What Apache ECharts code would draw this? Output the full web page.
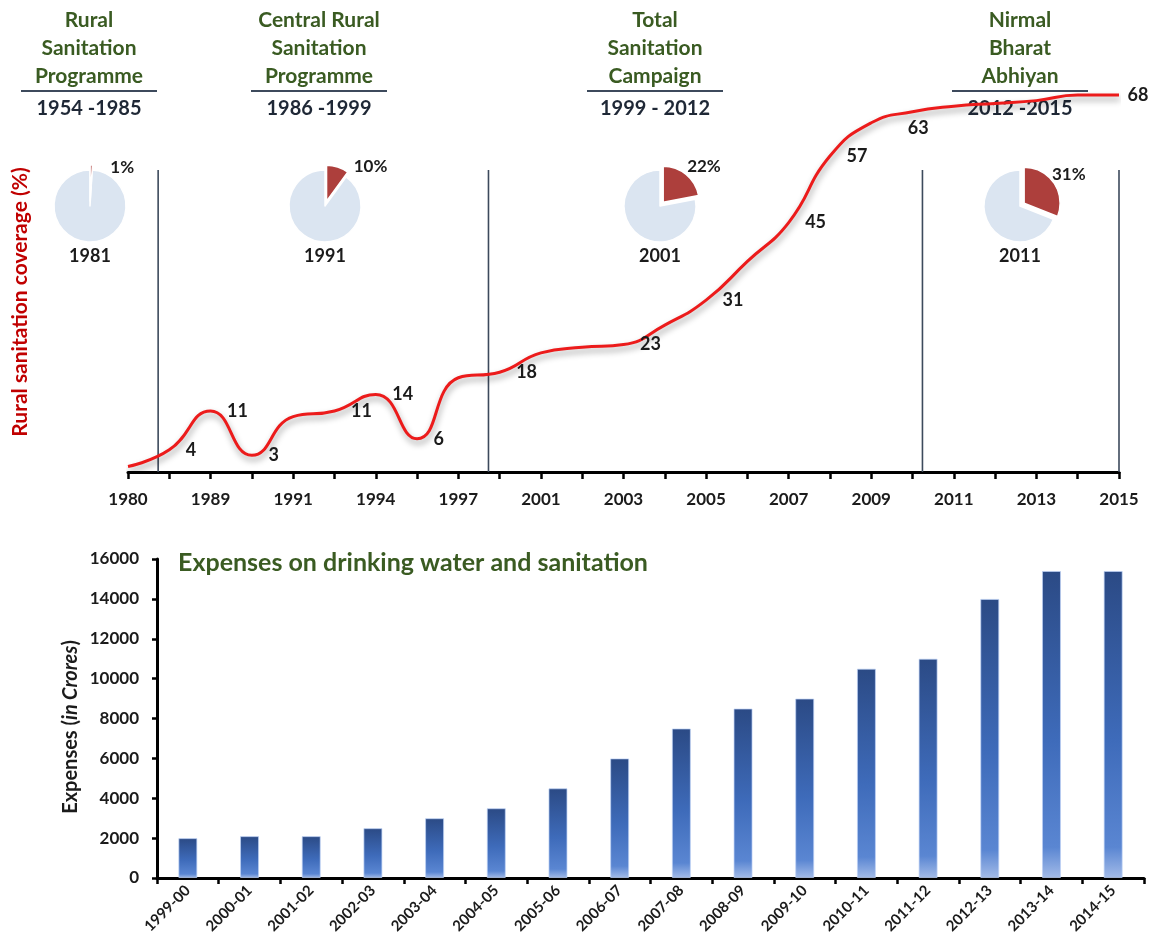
<!DOCTYPE html>
<html>
<head>
<meta charset="utf-8">
<script src="https://cdn.jsdelivr.net/npm/echarts@6/dist/echarts.min.js"></script>
<style>
  html, body { margin: 0; padding: 0; background: #ffffff; }
  #chart { width: 1153px; height: 950px; }
</style>
</head>
<body>
<div id="chart"></div>
<script>
// ---- Rural sanitation coverage (%) ----
// one slot per axis tick: labelled years alternate with unlabelled in-between ticks
const coverageAxisLabels = ['1980', '', '1989', '', '1991', '', '1994', '', '1997', '', '2001', '', '2003', '',
  '2005', '', '2007', '', '2009', '', '2011', '', '2013', '', '2015'];
const coverageValues = [1, 4, 11, 3, 10, 11, 14, 6, 17, 18, 21.5, 22.5, 23, 26.5, 31, 38, 45, 57, 63, 65, 66, 66.5, 67, 68, 68];
// slots whose value is written next to the curve
const coverageLabelled = [1, 2, 3, 5, 6, 7, 9, 12, 14, 16, 17, 18, 24];

// ---- sanitation programmes ----
const programmeNames = [
  ['Rural', 'Sanitation', 'Programme'],
  ['Central Rural', 'Sanitation', 'Programme'],
  ['Total', 'Sanitation', 'Campaign'],
  ['Nirmal', 'Bharat', 'Abhiyan']
];
const programmePeriods = ['1954 -1985', '1986 -1999', '1999 - 2012', '2012 -2015'];
// programme boundaries, in axis-slot units, and how high the divider rises (coverage %)
const phaseDividers = [0.73, 8.73, 19.24, 24];
const dividerTop = 54.5;

// ---- census snapshots ----
const censusYears = ['1981', '1991', '2001', '2011'];
const censusCoverage = [1, 10, 22, 31];

// ---- expenses on drinking water and sanitation (Rs crore) ----
const expenseYears = ['1999-00', '2000-01', '2001-02', '2002-03', '2003-04', '2004-05', '2005-06', '2006-07',
  '2007-08', '2008-09', '2009-10', '2010-11', '2011-12', '2012-13', '2013-14', '2014-15'];
const expenseValues = [2000, 2100, 2100, 2500, 3000, 3500, 4500, 6000, 7500, 8500, 9000, 10500, 11000, 14000, 15400, 15400];
const expenseTicks = { min: 0, max: 16000, interval: 2000 };

// ---- layout & style ----
const FONT = 'Lato, "Open Sans", sans-serif';
const GREEN = '#3a5b22';
const INK = '#1b1b1b';
const NAVY_INK = '#1f2836';
const RULE = '#3d4a5c';
const headerX = [89, 319, 655, 1020];
const pieX = [90, 325, 660, 1020];
const pieY = 206;
const pieRadius = 36;
// nudges for the percentage labels beside each pie
const pieLabelShift = [[10, 2], [7, 0], [-8, -8], [-11, -8]];
// nudges for individual value labels on the coverage curve (by slot)
const curveLabelShift = { 18: [20, 5], 24: [-8, 0] };

const chart = echarts.init(document.getElementById('chart'), null, { renderer: 'canvas' });

// coverage points, with value labels where the curve is annotated
const coverageData = coverageValues.map((v, i) =>
  coverageLabelled.includes(i) ? { value: v, label: { show: true } } : v
);

// programme divider lines, drawn on a hidden linear axis spanning the same slots
const dividerSeries = phaseDividers.map((x) => ({
  type: 'line',
  xAxisIndex: 1,
  yAxisIndex: 0,
  data: [[x, 0], [x, dividerTop]],
  symbol: 'none',
  silent: true,
  z: 1,
  lineStyle: { color: RULE, width: 1.6 },
  animation: false
}));

// census pies
const pieSeries = censusCoverage.map((p, i) => ({
  type: 'pie',
  center: [pieX[i], pieY],
  radius: pieRadius,
  startAngle: 90,
  clockwise: true,
  selectedMode: 'single',
  selectedOffset: 5,
  silent: true,
  animation: false,
  z: 3,
  itemStyle: { borderColor: '#ffffff', borderWidth: 1.5 },
  label: {
    show: true,
    position: 'outside',
    formatter: '{c}%',
    fontFamily: FONT,
    fontWeight: 'bold',
    fontSize: 17,
    color: INK
  },
  labelLine: { show: false, length: 0, length2: 4 },
  labelLayout: { dx: pieLabelShift[i][0], dy: pieLabelShift[i][1] },
  data: [
    { value: p, name: censusYears[i] + ' covered', selected: true, itemStyle: { color: '#ad3f3c' } },
    { value: 100 - p, name: censusYears[i] + ' not covered', itemStyle: { color: '#dbe5f1' }, label: { show: false } }
  ]
}));

// header blocks above the coverage chart
const graphics = [];
programmeNames.forEach((lines, i) => {
  graphics.push({
    type: 'text', x: headerX[i], y: 6, silent: true,
    style: { text: lines.join('\n'), font: 'bold 21px ' + FONT, fill: GREEN, align: 'center', lineHeight: 28 }
  });
  graphics.push({
    type: 'line', silent: true,
    shape: { x1: headerX[i] - 68, y1: 91, x2: headerX[i] + 68, y2: 91 },
    style: { stroke: RULE, lineWidth: 2 }
  });
  graphics.push({
    type: 'text', x: headerX[i], y: 109, silent: true,
    style: { text: programmePeriods[i], font: 'bold 20px ' + FONT, fill: NAVY_INK, align: 'center', verticalAlign: 'middle' }
  });
});
censusYears.forEach((yr, i) => {
  graphics.push({
    type: 'text', x: pieX[i], y: 256, silent: true,
    style: { text: yr, font: 'bold 18px ' + FONT, fill: INK, align: 'center', verticalAlign: 'middle' }
  });
});
graphics.push({
  type: 'text', x: 20, y: 302, rotation: Math.PI / 2, silent: true,
  style: { text: 'Rural sanitation coverage (%)', font: 'bold 21px ' + FONT, fill: '#c00000', align: 'center', verticalAlign: 'middle' }
});
graphics.push({
  type: 'text', x: 71, y: 727, rotation: Math.PI / 2, silent: true,
  style: {
    text: '{a|Expenses (}{b|in Crores}{a|)}',
    align: 'center', verticalAlign: 'middle',
    rich: {
      a: { font: 'bold 20px ' + FONT, fill: INK },
      b: { font: 'italic bold 20px ' + FONT, fill: INK }
    }
  }
});

const option = {
  backgroundColor: '#ffffff',
  animation: false,
  title: {
    text: 'Expenses on drinking water and sanitation',
    left: 173, top: 545,
    textStyle: { fontFamily: FONT, fontWeight: 'bold', fontSize: 25, color: GREEN }
  },
  grid: [
    { left: 128, right: 34, top: 84, height: 388, outerBoundsMode: 'none' },
    { left: 157, right: 9, top: 559, height: 319, outerBoundsMode: 'none' }
  ],
  xAxis: [
    {
      type: 'category', gridIndex: 0, data: coverageAxisLabels, boundaryGap: false,
      axisLine: { lineStyle: { color: '#000', width: 3 } },
      axisTick: { show: true, interval: 0, length: 7, lineStyle: { color: '#000', width: 2.5 } },
      axisLabel: { interval: 0, margin: 19, fontFamily: FONT, fontWeight: 'bold', fontSize: 17, color: INK },
      splitLine: { show: false }
    },
    {
      type: 'value', gridIndex: 0, min: 0, max: coverageAxisLabels.length - 1, show: false
    },
    {
      type: 'category', gridIndex: 1, data: expenseYears, boundaryGap: true,
      axisLine: { lineStyle: { color: '#000', width: 3 } },
      axisTick: { show: true, interval: 0, length: 6, lineStyle: { color: '#000', width: 2.5 } },
      axisLabel: { interval: 0, rotate: 45, margin: 10, fontFamily: FONT, fontWeight: 'bold', fontSize: 15, color: INK }
    }
  ],
  yAxis: [
    { type: 'value', gridIndex: 0, min: 0, max: 70, show: false },
    {
      type: 'value', gridIndex: 1, min: expenseTicks.min, max: expenseTicks.max, interval: expenseTicks.interval,
      axisLine: { show: true, lineStyle: { color: '#000', width: 3 } },
      axisTick: { show: true, length: 5, lineStyle: { color: '#000', width: 2.5 } },
      axisLabel: { margin: 18, fontFamily: FONT, fontWeight: 'bold', fontSize: 17, color: INK, formatter: (v) => String(v) },
      splitLine: { show: false }
    }
  ],
  graphic: graphics,
  series: [
    ...dividerSeries,
    {
      name: 'Rural sanitation coverage',
      type: 'line', xAxisIndex: 0, yAxisIndex: 0,
      data: coverageData,
      smooth: 0.5,
      symbol: 'circle',
      symbolSize: 1,
      showSymbol: true,
      itemStyle: { color: 'rgba(0,0,0,0)' },
      z: 4,
      lineStyle: {
        color: '#ec1b1b', width: 3,
        shadowColor: 'rgba(0,0,0,0.38)', shadowBlur: 6, shadowOffsetX: 1, shadowOffsetY: 4
      },
      label: {
        show: false, position: 'right', distance: 16, offset: [0, 7],
        fontFamily: FONT, fontWeight: 'bold', fontSize: 18, color: INK
      },
      labelLayout: (params) => {
        const s = curveLabelShift[params.dataIndex];
        return s ? { dx: s[0], dy: s[1], hideOverlap: false } : { hideOverlap: false };
      }
    },
    ...pieSeries,
    {
      name: 'Expenses',
      type: 'bar', xAxisIndex: 2, yAxisIndex: 1,
      data: expenseValues,
      barWidth: 19,
      itemStyle: {
        color: new echarts.graphic.LinearGradient(0, 0, 0, 1, [
          { offset: 0, color: '#2b4a85' },
          { offset: 0.55, color: '#3e6bba' },
          { offset: 0.9, color: '#5a86d2' },
          { offset: 1, color: '#a3bbe8' }
        ]),
        borderColor: 'rgba(190,210,245,0.7)',
        borderWidth: 1
      }
    }
  ]
};

chart.setOption(option);
</script>
</body>
</html>
